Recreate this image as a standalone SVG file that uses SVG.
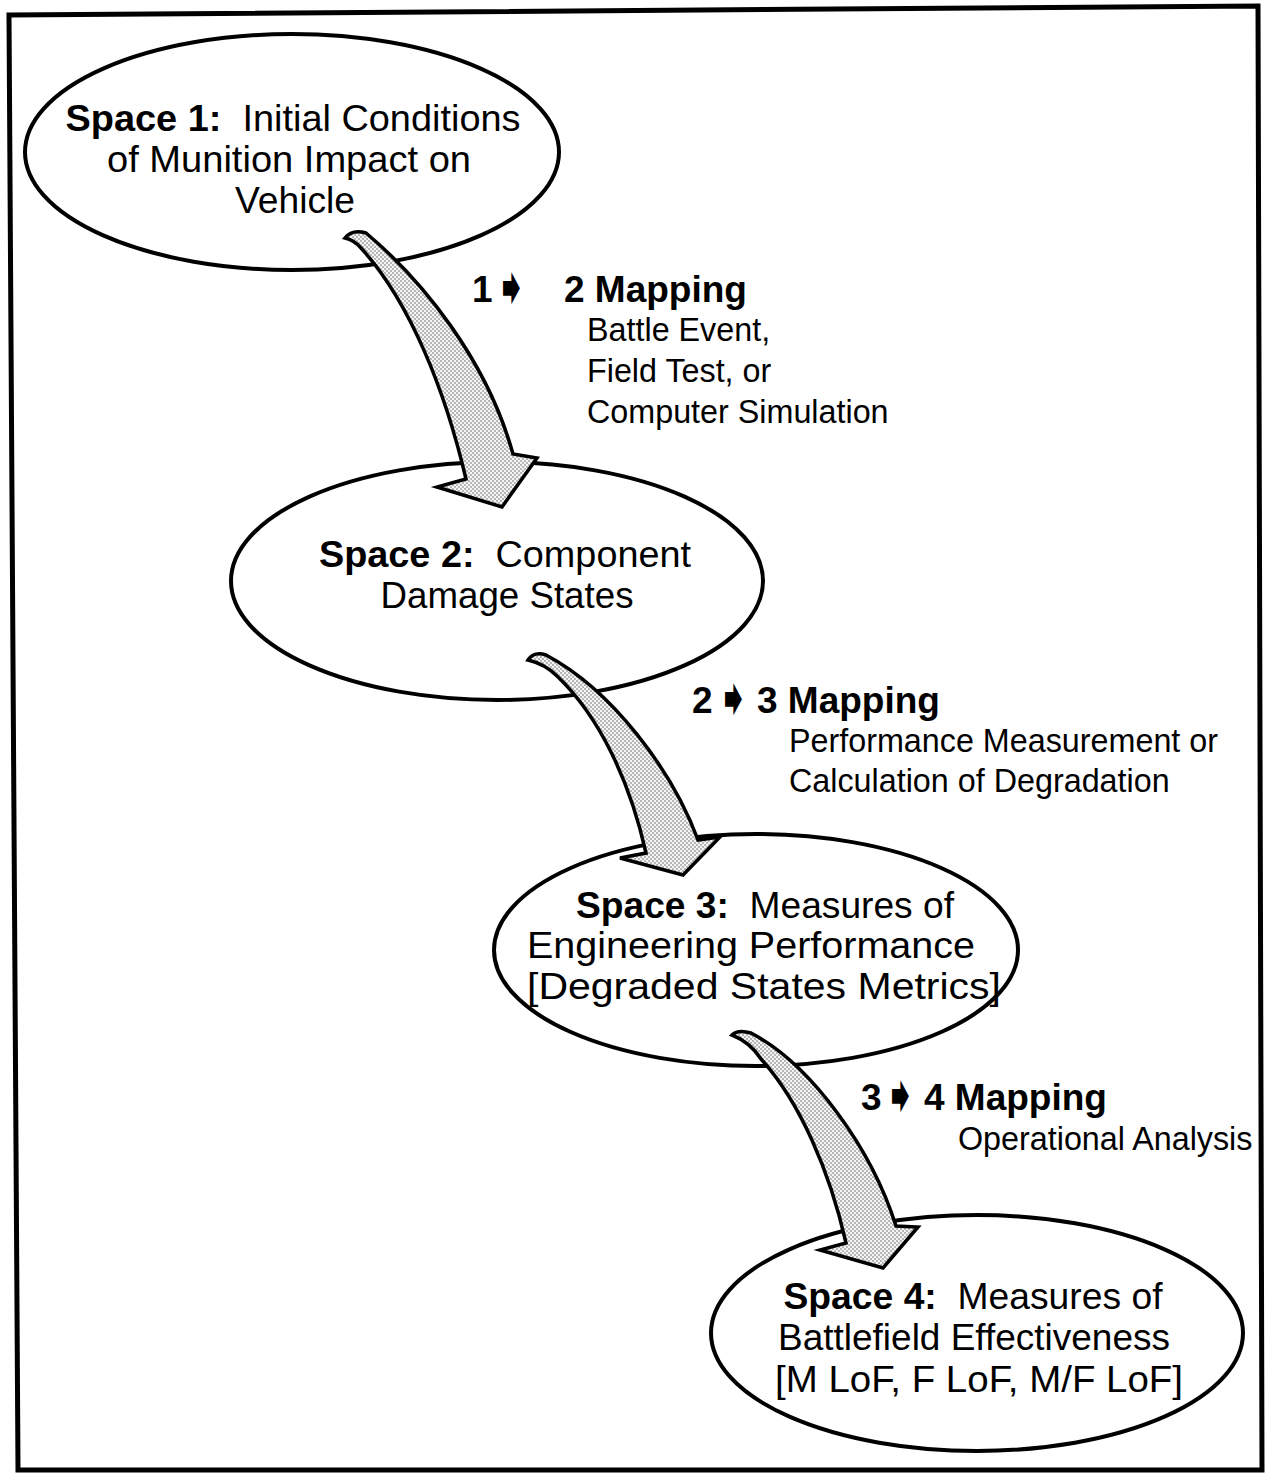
<svg xmlns="http://www.w3.org/2000/svg" width="1265" height="1478" viewBox="0 0 1265 1478">
<style>
.el{fill:#fff;stroke:#000;stroke-width:4}
.ar{fill:url(#dots);stroke:#000;stroke-width:3.5;stroke-linejoin:miter}
.t{font-family:"Liberation Sans",Arial,sans-serif;font-size:37.5px;fill:#000;text-anchor:middle;white-space:pre}
.b{font-weight:bold}
.h{font-family:"Liberation Sans",Arial,sans-serif;font-size:37px;font-weight:bold;fill:#000}
.s{font-family:"Liberation Sans",Arial,sans-serif;font-size:32.3px;fill:#000}
.g{font-family:"DejaVu Sans",sans-serif;font-size:40px;fill:#000}
</style>
<defs>
<pattern id="dots" width="4" height="4" patternUnits="userSpaceOnUse">
<rect width="4" height="4" fill="#f5f5f5"/>
<circle cx="1" cy="1" r="0.75" fill="#5a5a5a"/>
<circle cx="3" cy="3" r="0.75" fill="#5a5a5a"/>
</pattern>
</defs>
<rect width="1265" height="1478" fill="#fff"/>
<path d="M9,15 L1258,6 L1262,1470 L18,1470 Z" fill="none" stroke="#000" stroke-width="5"/>
<g id="space1">
<ellipse class="el" cx="292" cy="152" rx="267" ry="118"/>
<text class="t" x="293" y="131" xml:space="preserve" textLength="455" lengthAdjust="spacingAndGlyphs"><tspan class="b">Space 1:</tspan>  Initial Conditions</text>
<text class="t" x="289" y="172" textLength="364" lengthAdjust="spacingAndGlyphs">of Munition Impact on</text>
<text class="t" x="295" y="213" textLength="120" lengthAdjust="spacingAndGlyphs">Vehicle</text>
</g>
<g id="space2">
<ellipse class="el" cx="497" cy="581" rx="266" ry="119"/>
<text class="t" x="505" y="567" xml:space="preserve" textLength="372" lengthAdjust="spacingAndGlyphs"><tspan class="b">Space 2:</tspan>  Component</text>
<text class="t" x="507" y="608" textLength="253" lengthAdjust="spacingAndGlyphs">Damage States</text>
</g>
<g id="space3">
<ellipse class="el" cx="756" cy="950" rx="262" ry="116"/>
<text class="t" x="765" y="918" xml:space="preserve" textLength="378" lengthAdjust="spacingAndGlyphs"><tspan class="b">Space 3:</tspan>  Measures of</text>
<text class="t" x="751" y="958" textLength="448" lengthAdjust="spacingAndGlyphs">Engineering Performance</text>
<text class="t" x="764" y="999" textLength="474" lengthAdjust="spacingAndGlyphs">[Degraded States Metrics]</text>
</g>
<g id="space4">
<ellipse class="el" cx="977" cy="1333" rx="266" ry="118"/>
<text class="t" x="973" y="1309" xml:space="preserve" textLength="379" lengthAdjust="spacingAndGlyphs"><tspan class="b">Space 4:</tspan>  Measures of</text>
<text class="t" x="974" y="1350" textLength="392" lengthAdjust="spacingAndGlyphs">Battlefield Effectiveness</text>
<text class="t" x="979" y="1392" textLength="408" lengthAdjust="spacingAndGlyphs">[M LoF, F LoF, M/F LoF]</text>
</g>
<g id="connectors">
<path class="ar" d="M345,238 Q352,229 366,233 C422,280 487,360 513,454 L537,458 L502,507 L437,487 L466,479 C445,390 410,302 361,248 Q354,240 345,238 Z"/>
<path class="ar" d="M528,660 Q534,651 546,655 C612,690 672,770 698,840 L720,837 L683,875 L620,858 L646,853 C630,782 600,717 557,676 Q545,664 528,660 Z"/>
<path class="ar" d="M732,1035 Q738,1029 751,1033 C812,1065 872,1150 896,1226 L918,1227 L883,1268 L820,1250 L846,1243 C830,1172 800,1102 761,1059 Q750,1042 732,1035 Z"/>
</g>
<g id="label12">
<text class="h" x="472" y="302">1</text>
<text class="g" transform="translate(492,304) scale(1.15,1.25)">➧</text>
<text class="h" x="564" y="302">2 Mapping</text>
<text class="s" x="587" y="341">Battle Event,</text>
<text class="s" x="587" y="382">Field Test, or</text>
<text class="s" x="587" y="423">Computer Simulation</text>
</g>
<g id="label23">
<text class="h" x="692" y="713">2</text>
<text class="g" transform="translate(714,715) scale(1.15,1.25)">➧</text>
<text class="h" x="757" y="713">3 Mapping</text>
<text class="s" x="789" y="752">Performance Measurement or</text>
<text class="s" x="789" y="792">Calculation of Degradation</text>
</g>
<g id="label34">
<text class="h" x="861" y="1110">3</text>
<text class="g" transform="translate(881,1112) scale(1.15,1.25)">➧</text>
<text class="h" x="924" y="1110">4 Mapping</text>
<text class="s" x="958" y="1150">Operational Analysis</text>
</g>
</svg>
